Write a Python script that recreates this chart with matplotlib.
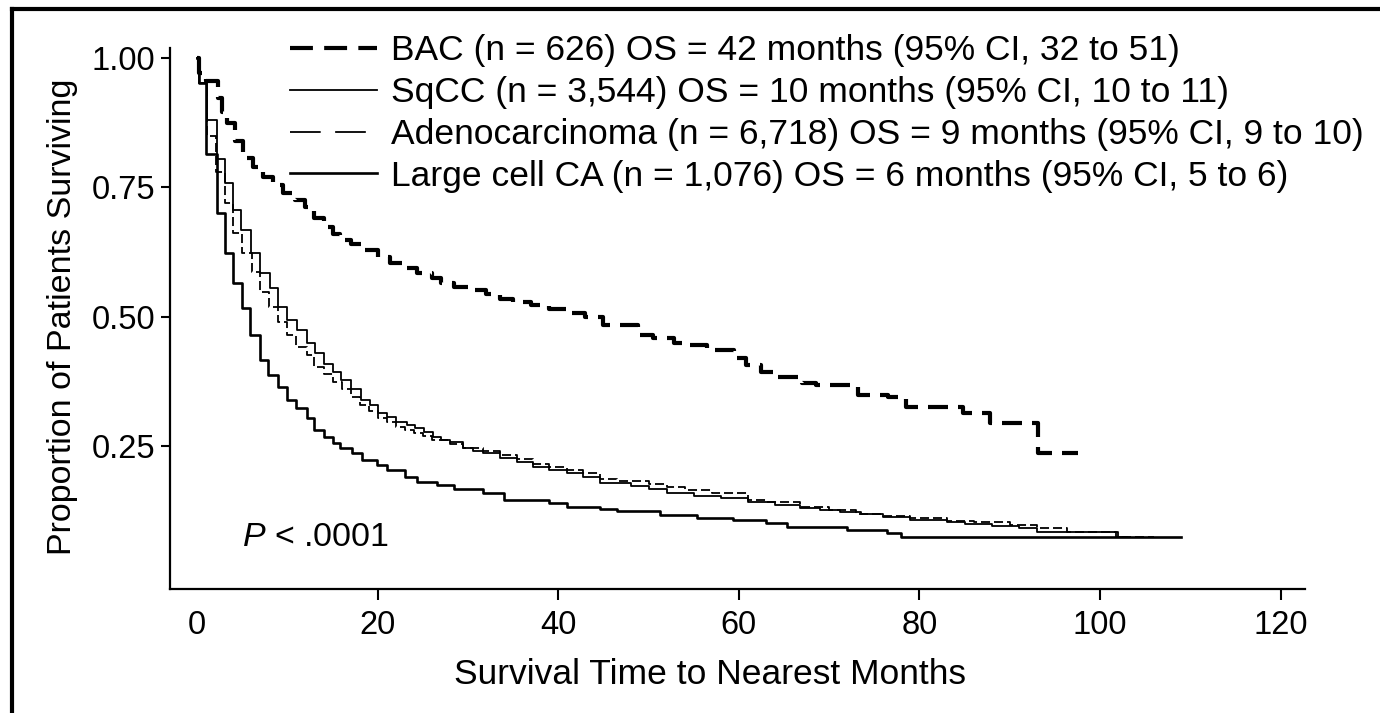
import matplotlib.pyplot as plt
from matplotlib.lines import Line2D

plt.rcParams['font.family'] = ['Liberation Sans', 'DejaVu Sans']
plt.rcParams['mathtext.fontset'] = 'custom'
plt.rcParams['mathtext.it'] = 'Liberation Sans:italic'

# Kaplan-Meier estimates (months, proportion surviving after each step)
bac_t = [0, 0.2, 1.0, 2.3, 2.8, 3.3, 4.2, 5.1, 6.2, 7.3, 8.4, 9.5, 10.8, 12.0,
         13.0, 14.0, 15.0, 15.8, 17.0, 18.4, 20.0, 21.4, 23.0, 24.4, 26.0,
         27.0, 28.5, 30.0, 32.0, 33.5, 35.0, 37.0, 39.0, 41.0, 43.0, 45.0,
         48.8, 50.5, 52.8, 54.0, 56.5, 59.5, 60.8, 62.5, 64.0, 67.0, 68.5,
         73.2, 76.5, 78.5, 84.8, 87.8, 93.1, 97.5]
bac_s = [1.0, 0.97, 0.955, 0.922, 0.896, 0.874, 0.84, 0.807, 0.79, 0.77, 0.755,
         0.74, 0.725, 0.712, 0.69, 0.674, 0.66, 0.649, 0.64, 0.63, 0.615,
         0.604, 0.595, 0.585, 0.575, 0.566, 0.558, 0.552, 0.545, 0.535, 0.528,
         0.523, 0.515, 0.508, 0.5, 0.485, 0.465, 0.46, 0.45, 0.446, 0.436,
         0.42, 0.407, 0.394, 0.384, 0.372, 0.369, 0.35, 0.345, 0.326, 0.315,
         0.295, 0.237, 0.237]

sqcc_t = [0, 0.2, 1.1, 2.2, 3.1, 4.0, 4.9, 6.0, 7.0, 8.1, 9.0, 9.9, 11.1, 12.2,
          13.1, 14.1, 15.0, 15.9, 17.0, 18.1, 19.1, 20.0, 21.0, 22.0, 23.2,
          24.1, 25.1, 26.1, 27.0, 28.0, 29.5, 30.5, 31.7, 33.5, 35.4, 37.2,
          39.0, 41.0, 42.7, 44.6, 48.0, 50.0, 52.0, 55.0, 58.0, 61.0, 64.0,
          66.8, 69.0, 71.2, 73.5, 76.0, 79.0, 83.0, 85.0, 88.0, 91.0, 93.0,
          101.8, 103.0]
sqcc_s = [1.0, 0.952, 0.88, 0.805, 0.759, 0.707, 0.668, 0.624, 0.585, 0.556,
          0.519, 0.494, 0.475, 0.45, 0.43, 0.41, 0.394, 0.378, 0.36, 0.34,
          0.33, 0.315, 0.307, 0.297, 0.291, 0.285, 0.278, 0.268, 0.263, 0.259,
          0.247, 0.242, 0.237, 0.228, 0.22, 0.21, 0.205, 0.199, 0.191, 0.18,
          0.174, 0.168, 0.16, 0.155, 0.15, 0.143, 0.137, 0.131, 0.127, 0.124,
          0.119, 0.114, 0.108, 0.104, 0.1, 0.097, 0.093, 0.085, 0.075, 0.075]

adeno_t = [0, 0.2, 1.1, 2.1, 3.1, 4.0, 5.0, 6.1, 7.0, 8.0, 9.0, 10.0, 11.0,
           12.2, 13.0, 14.0, 15.0, 16.0, 17.0, 18.0, 19.0, 20.0, 21.0, 22.0,
           23.0, 24.0, 25.0, 26.0, 28.0, 29.5, 31.7, 33.5, 35.4, 37.2, 39.0,
           41.0, 42.7, 44.6, 46.5, 50.0, 52.0, 54.0, 57.0, 61.0, 63.0, 66.8,
           70.0, 73.0, 76.0, 79.0, 83.0, 86.0, 90.0, 93.0, 96.3, 102.0, 106.0]
adeno_s = [1.0, 0.952, 0.85, 0.78, 0.72, 0.662, 0.624, 0.587, 0.548, 0.519,
           0.49, 0.465, 0.442, 0.427, 0.403, 0.39, 0.375, 0.36, 0.345, 0.33,
           0.318, 0.305, 0.297, 0.288, 0.282, 0.276, 0.27, 0.263, 0.255,
           0.248, 0.241, 0.233, 0.225, 0.216, 0.21, 0.204, 0.198, 0.188,
           0.184, 0.178, 0.172, 0.166, 0.16, 0.147, 0.142, 0.133, 0.127, 0.12,
           0.116, 0.112, 0.106, 0.104, 0.098, 0.093, 0.085, 0.075, 0.075]

large_t = [0, 0.2, 1.0, 2.2, 3.1, 4.0, 5.0, 5.9, 7.0, 7.9, 9.0, 10.0, 11.0,
           12.2, 13.0, 14.0, 15.0, 15.8, 17.2, 18.3, 19.9, 21.0, 23.0, 24.4,
           26.6, 28.4, 31.7, 34.0, 39.0, 41.0, 44.6, 46.5, 51.3, 55.4, 59.4,
           63.0, 65.3, 72.0, 76.4, 78.0, 109.0]
large_s = [1.0, 0.952, 0.815, 0.70, 0.624, 0.566, 0.517, 0.465, 0.417, 0.388,
           0.365, 0.34, 0.324, 0.305, 0.282, 0.268, 0.257, 0.247, 0.237,
           0.224, 0.214, 0.205, 0.191, 0.181, 0.176, 0.168, 0.16, 0.147,
           0.141, 0.133, 0.13, 0.125, 0.118, 0.112, 0.108, 0.102, 0.095,
           0.089, 0.083, 0.075, 0.075]

labels = ["BAC (n = 626) OS = 42 months (95% CI, 32 to 51)",
          "SqCC (n = 3,544) OS = 10 months (95% CI, 10 to 11)",
          "Adenocarcinoma (n = 6,718) OS = 9 months (95% CI, 9 to 10)",
          "Large cell CA (n = 1,076) OS = 6 months (95% CI, 5 to 6)"]

fig = plt.figure(figsize=(13.8, 7.13), dpi=100)
ax = fig.add_axes([0.1232, 0.1739, 0.8225, 0.7588])

ax.step(bac_t, bac_s, where='post', color='black', lw=3.0,
        linestyle=(0, (4.8, 2.4)))
ax.step(sqcc_t, sqcc_s, where='post', color='black', lw=1.3)
ax.step(adeno_t, adeno_s, where='post', color='black', lw=1.3,
        linestyle=(0, (5, 2.2)))
ax.step(large_t, large_s, where='post', color='black', lw=1.9)

ax.set_xlim(-3, 122.7)
ax.set_ylim(-0.025, 1.019)
ax.set_xticks([0, 20, 40, 60, 80, 100, 120])
ax.set_yticks([0.25, 0.50, 0.75, 1.00])
ax.set_yticklabels(["0.25", "0.50", "0.75", "1.00"])
ax.xaxis.get_major_ticks()[0].tick1line.set_visible(False)
ax.tick_params(axis='x', direction='out', length=8, width=1.5, pad=7,
               labelsize=23.5)
ax.tick_params(axis='y', direction='out', length=6.5, width=1.5, pad=4,
               labelsize=23.5)
for side in ['top', 'right']:
    ax.spines[side].set_visible(False)
for side in ['left', 'bottom']:
    ax.spines[side].set_linewidth(1.6)

ax.set_xlabel("Survival Time to Nearest Months", fontsize=25.5)
ax.xaxis.set_label_coords(0.4758, -0.128)
ax.set_ylabel("Proportion of Patients Surviving", fontsize=24.5)
ax.yaxis.set_label_coords(-0.081, 0.503)

ax.text(5.0, 0.075, r"$\mathit{P}$ < .0001", fontsize=24.5, va='center')

handles = [Line2D([], [], color='black', lw=3.0, linestyle=(0, (5.5, 2.7))),
           Line2D([], [], color='black', lw=1.3),
           Line2D([], [], color='black', lw=1.3, linestyle=(0, (17, 8))),
           Line2D([], [], color='black', lw=1.9)]
fig.legend(handles, labels, loc='upper left', bbox_to_anchor=(0.2101, 0.952),
           frameon=False, fontsize=25.5, handlelength=2.45, handletextpad=0.39,
           labelspacing=0.25, borderpad=0, borderaxespad=0)

# black frame along the top and left edges
fig.add_artist(Line2D([12 / 1380, 12 / 1380], [0, 1 - 9 / 713],
                      transform=fig.transFigure, color='black', lw=3))
fig.add_artist(Line2D([12 / 1380, 1], [1 - 9 / 713, 1 - 9 / 713],
                      transform=fig.transFigure, color='black', lw=3))

fig.savefig("out.png", dpi=100)
